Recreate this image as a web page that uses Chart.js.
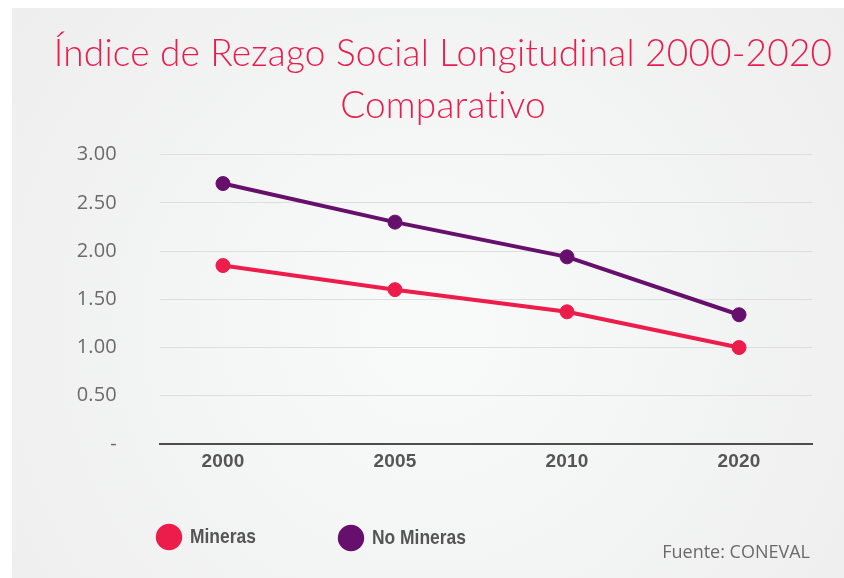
<!DOCTYPE html>
<html lang="es">
<head>
  <meta charset="UTF-8">
  <title>Índice de Rezago Social Longitudinal 2000-2020</title>
  <script src="https://cdn.jsdelivr.net/npm/chart.js"></script>
  <style>
    body {
      margin: 0;
      background: #ffffff;
    }
    canvas {
      display: block;
    }
  </style>
</head>
<body>
  <canvas id="rezagoChart" width="844" height="578"></canvas>

  <script>
    // Datos del índice por año
    const years = ['2000', '2005', '2010', '2020'];
    const mineras = [1.85, 1.60, 1.37, 1.00];
    const noMineras = [2.70, 2.30, 1.94, 1.34];
    const seriesNames = ['Mineras', 'No Mineras'];
    const seriesColors = ['#ec1c4b', '#670f6c'];

    const toPoints = (values) => values.map((v, i) => ({ x: i, y: v }));

    // Fondo gris con degradado suave
    const panelBackground = {
      id: 'panelBackground',
      beforeDraw(chart) {
        const { ctx, width, height } = chart;
        // sin ligaduras en el título (evita la "ti" unida)
        ctx.letterSpacing = '0.2px';
        ctx.save();
        ctx.fillStyle = '#ffffff';
        ctx.fillRect(0, 0, width, height);
        const g = ctx.createRadialGradient(430, 330, 40, 430, 330, 520);
        g.addColorStop(0, '#f8f9f9');
        g.addColorStop(1, '#eeeeee');
        ctx.fillStyle = g;
        ctx.fillRect(12, 8, width - 12, height - 8);
        ctx.restore();
      }
    };

    // Leyenda con círculos y nota de la fuente
    const bottomNotes = {
      id: 'bottomNotes',
      afterDraw(chart) {
        const { ctx } = chart;
        const spots = [{ x: 169, y: 537 }, { x: 351, y: 538 }];
        ctx.save();
        ctx.letterSpacing = '0px';
        chart.data.datasets.forEach((ds, i) => {
          const s = spots[i];
          ctx.beginPath();
          ctx.arc(s.x, s.y, 13.2, 0, Math.PI * 2);
          ctx.fillStyle = ds.borderColor;
          ctx.fill();
          // texto angosto: escala horizontal
          ctx.save();
          ctx.translate(s.x + 21, s.y);
          ctx.scale(0.83, 1);
          ctx.font = 'bold 21px "Liberation Sans", Arial, sans-serif';
          ctx.fillStyle = '#555555';
          ctx.textAlign = 'left';
          ctx.textBaseline = 'middle';
          ctx.fillText(ds.label, 0, 0);
          ctx.restore();
        });
        ctx.font = '18px "Open Sans", sans-serif';
        ctx.fillStyle = '#6a6a6a';
        ctx.textAlign = 'right';
        ctx.textBaseline = 'middle';
        ctx.fillText('Fuente: CONEVAL', 810, 553);
        ctx.restore();
      }
    };

    const ctx = document.getElementById('rezagoChart').getContext('2d');

    new Chart(ctx, {
      type: 'line',
      data: {
        datasets: [
          {
            label: seriesNames[0],
            data: toPoints(mineras),
            yAxisID: 'y',
            borderColor: seriesColors[0],
            backgroundColor: seriesColors[0],
            borderWidth: 4,
            pointRadius: 7,
            pointBorderWidth: 1,
            pointHoverRadius: 7,
            fill: false,
          },
          {
            label: seriesNames[1],
            data: toPoints(noMineras),
            yAxisID: 'y',
            borderColor: seriesColors[1],
            backgroundColor: seriesColors[1],
            borderWidth: 4,
            pointRadius: 7,
            pointBorderWidth: 1,
            pointHoverRadius: 7,
            fill: false,
          },
        ],
      },
      options: {
        responsive: false,
        animation: false,
        layout: { padding: { left: 42, right: 0, top: 0, bottom: 0 } },
        plugins: {
          legend: { display: false },
          tooltip: { enabled: false },
          title: {
            display: true,
            text: ['Índice de Rezago Social Longitudinal 2000-2020', 'Comparativo'],
            color: '#e91d4d',
            font: { family: 'Lato, sans-serif', size: 37, weight: '300', lineHeight: 1.4 },
            padding: { top: 28, bottom: 23 },
          },
        },
        scales: {
          x: {
            type: 'linear',
            min: -0.366,
            max: 3.424,
            afterFit(scale) { scale.height = 134; },
            afterBuildTicks(scale) {
              scale.ticks = years.map((_, i) => ({ value: i }));
            },
            grid: { display: false, drawTicks: false },
            border: { display: true, color: '#4d4d4d', width: 2 },
            ticks: {
              padding: 6,
              color: '#555555',
              font: { family: '"Liberation Sans", Arial, sans-serif', size: 19, weight: 'bold' },
              callback: (value) => years[value],
            },
          },
          y: {
            min: 0,
            max: 3,
            afterFit(scale) { scale.width = 118; },
            grid: { color: '#dedede', lineWidth: 1, drawTicks: false },
            border: { display: false },
            ticks: {
              stepSize: 0.5,
              padding: 43,
              color: '#6b6b6b',
              font: { family: '"Open Sans", sans-serif', size: 20 },
              callback: (value) => (value === 0 ? '-' : value.toFixed(2)),
            },
          },
          // margen derecho del área de trazado
          yRight: {
            position: 'right',
            afterFit(scale) { scale.width = 32; },
            grid: { display: false },
            border: { display: false },
            ticks: { display: false },
          },
        },
      },
      plugins: [panelBackground, bottomNotes],
    });
  </script>
</body>
</html>
